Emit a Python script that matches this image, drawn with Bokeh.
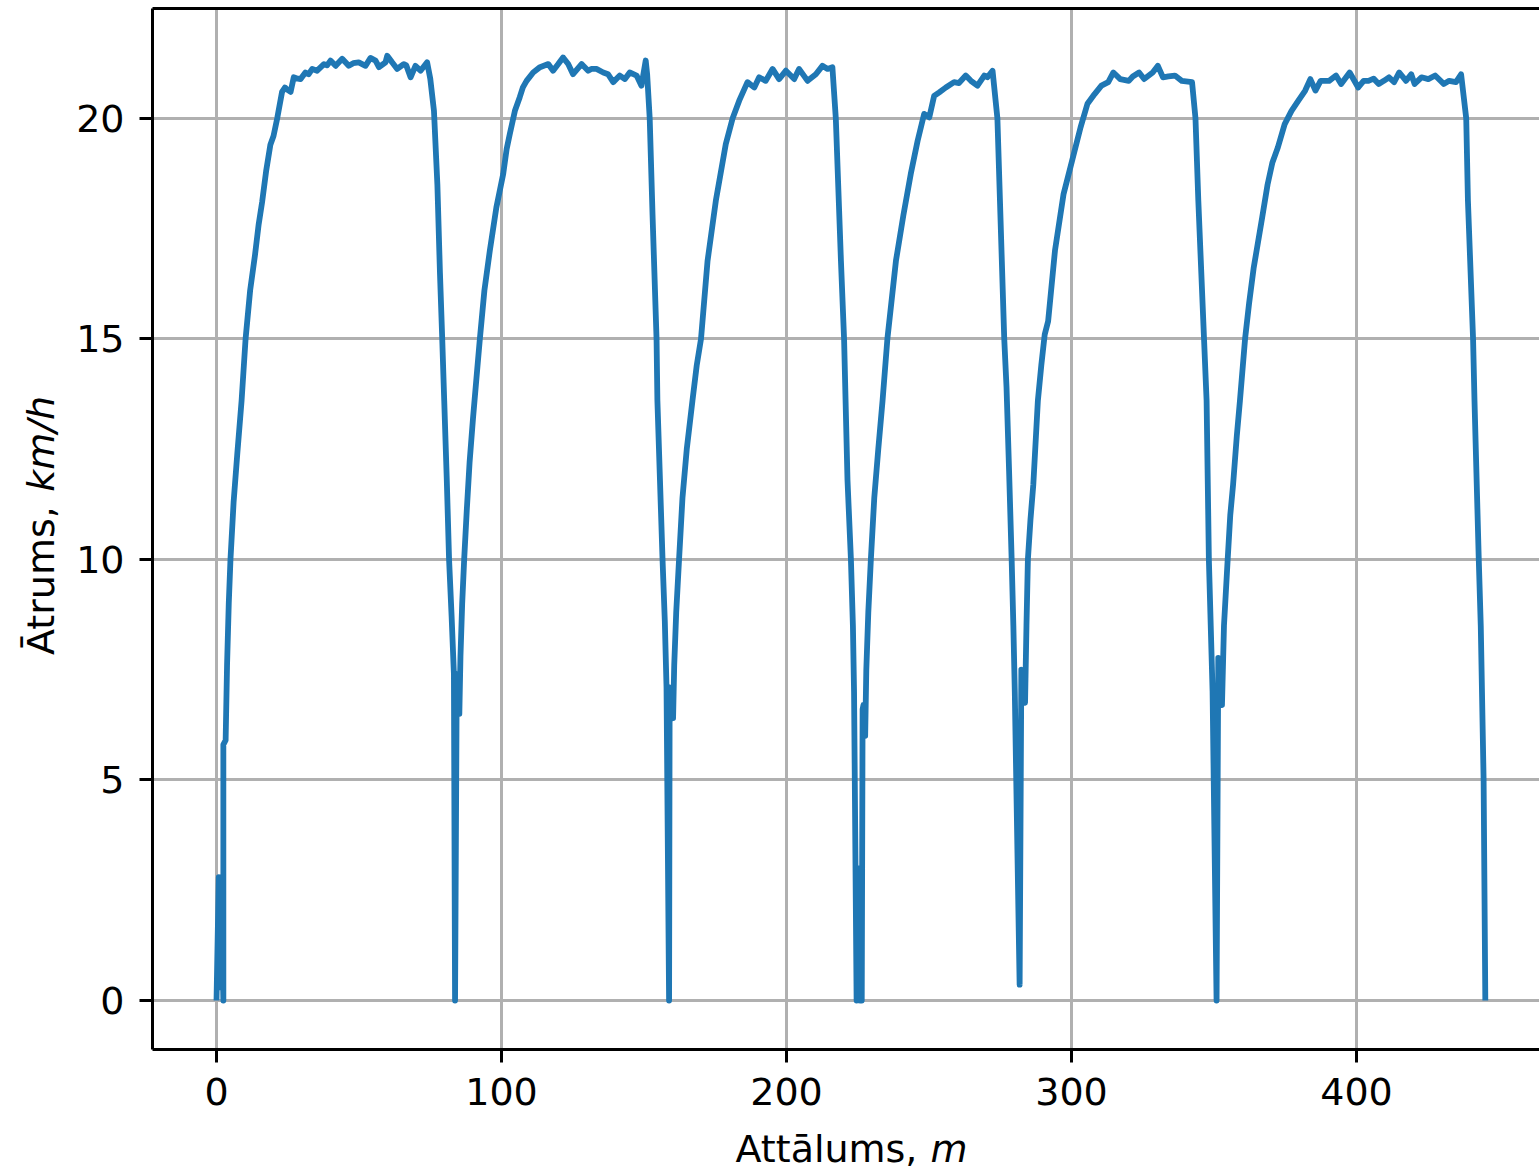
import math
from bokeh.plotting import figure
from bokeh.layouts import row, column
from bokeh.models import Range1d, FixedTicker, LinearAxis, Grid
from bokeh.core.properties import value
from bokeh.embed import file_html
from bokeh.resources import INLINE

# ---- data ----
distance_m = [
    0, 0.8, 1.2, 1.7, 2.4, 2.4, 3.2, 3.7, 4.3, 4.9, 6.0, 7.3, 8.8, 10.2, 11.8, 13.5,
    14.8, 16.0, 17.4, 18.9, 20.0, 21.3, 23.0, 24.0, 24.8, 26.0, 27.1, 28.5, 29.5,
    31.2, 32.3, 33.6, 35.3, 37.7, 38.8, 40.0, 41.8, 44.1, 46.4, 48.0, 49.9, 52.3,
    54.0, 55.8, 57.0, 59.3, 59.9, 61.6, 63.4, 65.7, 66.6, 68.1, 69.8, 71.6, 73.9,
    75.0, 76.3, 77.5, 78.4, 79.2, 79.9, 80.8, 81.6, 82.5, 83.3, 83.7, 84.3, 84.6,
    85.2, 85.6, 86.2, 86.9, 87.8, 88.8, 90.0, 91.6, 92.4, 94.0, 95.9, 98.2, 100.6,
    101.8, 102.9, 104.7, 106.4, 107.5, 108.8, 111.1, 113.5, 116.4, 118.1, 119.9,
    121.6, 123.4, 125.1, 128.1, 130.4, 131.5, 133.3, 135.7, 137.4, 139.2, 141.5,
    143.3, 145.0, 147.4, 149.1, 150.6, 151.1, 152.0, 153.0, 154.4, 154.7, 155.6,
    156.5, 157.3, 157.9, 158.8, 159.0, 159.5, 160.2, 160.6, 161.3, 162.3, 163.5,
    165.0, 167.0, 168.5, 170.0, 172.3, 175.2, 178.7, 181.1, 183.4, 186.3, 188.7,
    190.4, 192.7, 195.1, 197.4, 199.8, 202.7, 204.4, 207.4, 210.3, 212.6, 214.4,
    216.1, 217.3, 219.1, 220.2, 221.4, 222.6, 223.3, 223.7, 224.6, 225.2, 225.8,
    226.4, 226.7, 227.0, 227.6, 228.0, 228.7, 229.6, 230.8, 232.2, 233.7, 235.4,
    238.4, 241.0, 243.6, 246.0, 248.3, 250.1, 251.8, 253.6, 255.9, 258.8, 260.5,
    262.9, 264.7, 267.0, 269.4, 270.5, 272.3, 274.0, 275.2, 276.4, 277.2, 278.1,
    279.0, 279.6, 280.1, 281.8, 282.4, 283.0, 283.7, 284.2, 284.7, 285.6, 286.6,
    288.2, 289.4, 290.6, 291.8, 294.2, 297.2, 300.2, 303.2, 305.6, 308.1, 310.5,
    312.9, 314.7, 317.1, 320.1, 321.5, 323.7, 325.5, 328.5, 330.3, 332.1, 334.0,
    336.3, 338.7, 342.3, 343.5, 344.5, 346.5, 347.4, 348.2, 349.5, 350.9, 351.5,
    352.1, 352.8, 353.5, 354.8, 355.7, 356.7, 358.0, 359.1, 360.9, 362.3, 363.9,
    366.9, 368.8, 370.5, 372.4, 374.8, 377.2, 379.6, 382.0, 383.8, 385.6, 387.4,
    390.4, 392.8, 394.6, 397.6, 400.6, 402.5, 404.2, 406.0, 407.8, 409.6, 411.4,
    413.2, 415.0, 417.4, 419.2, 420.4, 422.8, 425.2, 427.6, 430.6, 432.5, 434.9,
    436.7, 438.5, 439.1, 440.9, 441.4, 442.9, 443.6, 444.6, 445.2,
]
speed_kmh = [
    0, 2.8, 0.3, 2.4, 0, 5.8, 5.9, 7.6, 9.0, 10.0, 11.3, 12.4, 13.6, 15.0, 16.1, 16.9,
    17.6, 18.1, 18.8, 19.4, 19.6, 20.0, 20.6, 20.7, 20.65, 20.6, 20.93, 20.9, 20.89,
    21.04, 21.0, 21.12, 21.08, 21.23, 21.2, 21.31, 21.19, 21.35, 21.19, 21.25, 21.27, 21.19,
    21.37, 21.31, 21.16, 21.27, 21.42, 21.27, 21.12, 21.23, 21.2, 20.93, 21.19, 21.08, 21.27,
    20.9, 20.17, 18.5, 16.5, 15.0, 13.6, 11.8, 10.0, 8.7, 7.4, 0, 7.4, 7.3,
    6.5, 7.8, 9.0, 10.0, 11.1, 12.2, 13.2, 14.4, 15.0, 16.1, 17.0, 17.98, 18.74,
    19.3, 19.64, 20.17, 20.48, 20.7, 20.85, 21.04, 21.16, 21.23, 21.08, 21.23,
    21.38, 21.23, 21.0, 21.23, 21.08, 21.12, 21.12, 21.04, 21.0, 20.82, 20.97,
    20.89, 21.04, 20.97, 20.74, 21.31, 21.0, 20.0, 17.8, 15.0, 13.6, 11.8,
    10.0, 8.6, 7.1, 0, 7.1, 7.0, 6.4, 7.6, 8.8, 10.0, 11.4,
    12.5, 13.6, 14.4, 15.0, 16.77, 18.13, 19.42, 20.0, 20.4, 20.82, 20.70,
    20.93, 20.85, 21.12, 20.89, 21.08, 20.89, 21.12, 20.85, 21.0, 21.19, 21.12,
    21.16, 20.0, 16.77, 15.0, 11.8, 10.0, 8.5, 7.0, 0, 3.0, 0,
    0, 6.6, 6.7, 6.0, 7.5, 8.8, 10.0, 11.4, 12.5, 13.6, 15.0,
    16.77, 17.8, 18.74, 19.49, 20.1, 20.02, 20.51, 20.59, 20.70, 20.82, 20.8,
    20.97, 20.85, 20.74, 20.97, 20.93, 21.08, 20.0, 17.5, 15.0, 13.9, 12.0,
    10.0, 8.5, 7.0, 0.36, 7.5, 7.2, 6.75, 8.5, 10.0, 10.9, 11.7,
    13.6, 14.4, 15.1, 15.4, 17.0, 18.28, 19.04, 19.8, 20.33, 20.55, 20.74,
    20.82, 21.04, 20.89, 20.85, 20.95, 21.04, 20.89, 21.04, 21.19, 20.93, 20.95,
    20.97, 20.85, 20.82, 20.0, 18.13, 15.0, 13.6, 10.0, 7.0, 0, 7.77,
    7.3, 6.7, 8.5, 10.0, 11.0, 11.7, 12.8, 13.6, 15.0, 15.8, 16.6,
    17.75, 18.5, 19.0, 19.34, 19.87, 20.17, 20.4, 20.63, 20.89, 20.63, 20.85,
    20.85, 20.97, 20.78, 21.04, 20.70, 20.85, 20.85, 20.9, 20.78, 20.85, 20.93,
    20.82, 21.04, 20.85, 21.0, 20.78, 20.93, 20.89, 20.97, 20.78, 20.85, 20.82,
    21.0, 20.0, 18.13, 15.0, 13.6, 10.0, 8.5, 5.0, 0,
]
x_ticks = [0, 100, 200, 300, 400]
y_ticks = [0, 5, 10, 15, 20]
x_label_plain, x_label_italic = "Attālums, ", "m"
y_label_plain, y_label_italic = "Ātrums, ", "km/h"

# ---- layout (page pixels) ----
W, H = 1539, 1168
YLAB_W = 60          # strip on the left holding the y-axis title
XLAB_H = 43          # strip at the bottom holding the x-axis title
MAIN_W, MAIN_H = W - YLAB_W, H - XLAB_H
FRAME_L, FRAME_T, FRAME_B = 152, 8, 1049
X0, X1 = -22.46, 464.21
Y0, Y1 = -1.11, 22.49
FONT = "DejaVu Sans"
FS = "38px"
BASE_FIX = 12        # text baseline correction (px)

p = figure(width=MAIN_W, height=MAIN_H, output_backend="svg", toolbar_location=None,
           x_range=Range1d(X0, X1), y_range=Range1d(Y0, Y1),
           x_axis_location=None, y_axis_location=None,
           min_border_left=FRAME_L - YLAB_W, min_border_right=0,
           min_border_top=FRAME_T, min_border_bottom=MAIN_H - FRAME_B)
p.outline_line_color = None
p.background_fill_color = "white"
p.border_fill_color = "white"
p.grid.visible = False

def style_axis(ax):
    ax.axis_line_color = "black"
    ax.axis_line_width = 3
    ax.major_tick_line_color = "black"
    ax.major_tick_line_width = 3
    ax.major_tick_out = 13
    ax.major_tick_in = 0
    ax.minor_tick_line_color = None
    ax.major_label_text_font = FONT
    ax.major_label_text_font_size = FS
    ax.major_label_text_color = "black"

xa = LinearAxis(ticker=FixedTicker(ticks=x_ticks))
style_axis(xa)
xa.major_label_standoff = 15
p.add_layout(xa, "below")

ya = LinearAxis(ticker=FixedTicker(ticks=y_ticks))
style_axis(ya)
ya.major_label_standoff = 15
p.add_layout(ya, "left")

top_spine = LinearAxis(ticker=FixedTicker(ticks=[]))
top_spine.axis_line_color = "black"
top_spine.axis_line_width = 3
top_spine.major_tick_line_color = None
top_spine.minor_tick_line_color = None
top_spine.major_label_text_font_size = "0px"
p.add_layout(top_spine, "above")

p.add_layout(Grid(dimension=0, ticker=xa.ticker, grid_line_color="#b0b0b0", grid_line_width=3))
p.add_layout(Grid(dimension=1, ticker=ya.ticker, grid_line_color="#b0b0b0", grid_line_width=3))

p.line(distance_m, speed_kmh, line_color="#1f77b4", line_width=5.8,
       line_join="round")

def text_strip(w, h, xr, yr):
    f = figure(width=w, height=h, output_backend="svg", toolbar_location=None,
               x_range=Range1d(*xr), y_range=Range1d(*yr),
               x_axis_location=None, y_axis_location=None,
               min_border=0, min_border_left=0, min_border_right=0,
               min_border_top=0, min_border_bottom=0)
    f.outline_line_color = None
    f.background_fill_color = "white"
    f.border_fill_color = "white"
    f.grid.visible = False
    return f

txt_kw = dict(text_font=value(FONT), text_font_size=value(FS), text_color="black",
              text_baseline="alphabetic", text_align="left")

# x-axis title strip: its frame is aligned with the main frame (page x 152..1539),
# page y 1125..1168 ; data y = H - page y
xs = text_strip(MAIN_W, XLAB_H, (FRAME_L, W), (0, XLAB_H))
xs.text(x=[735], y=[H - (1160 - BASE_FIX)], text=[x_label_plain], **txt_kw)
xs.text(x=[930], y=[H - (1160 - BASE_FIX)], text=[x_label_italic],
        text_font_style="italic", **txt_kw)

# y-axis title strip: page x 0..60, frame page y 8..1168 ; data y = H - page y
ys = text_strip(YLAB_W, H, (0, YLAB_W), (0, H - FRAME_T))
ys.text(x=[52 - BASE_FIX], y=[H - 658], text=[y_label_plain], angle=math.pi / 2, **txt_kw)
ys.text(x=[52 - BASE_FIX], y=[H - 496], text=[y_label_italic], angle=math.pi / 2,
        text_font_style="italic", **txt_kw)

layout = row(ys, column(p, xs, spacing=0), spacing=0)
open("out.html", "w").write(file_html(layout, INLINE))
